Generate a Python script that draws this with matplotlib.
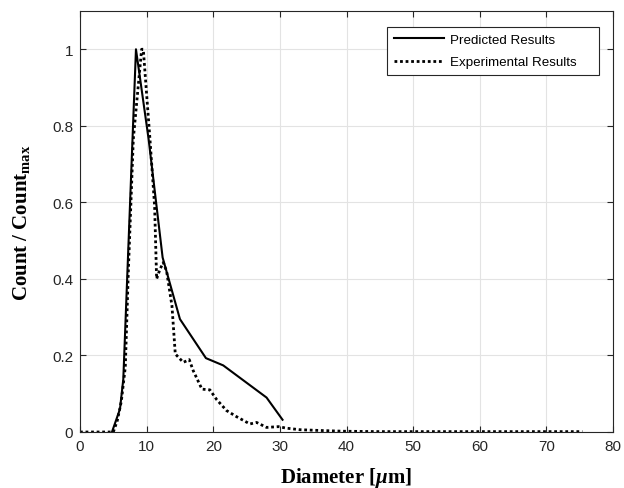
import matplotlib
matplotlib.use("Agg")
import matplotlib.pyplot as plt

plt.rcParams["mathtext.fontset"] = "custom"
plt.rcParams["mathtext.rm"] = "Liberation Serif:bold"
plt.rcParams["mathtext.bf"] = "Liberation Serif:bold"
plt.rcParams["mathtext.it"] = "Liberation Serif:italic:bold"

# Predicted results (solid)
pred_x = [4.8, 6.0, 6.5, 8.4, 10.3, 12.4, 15.0, 18.9, 21.5, 28.0, 30.4]
pred_y = [0.0, 0.06, 0.138, 1.0, 0.765, 0.456, 0.295, 0.193, 0.174, 0.09, 0.032]

# Experimental results (dotted)
exp_x = [0, 1, 2, 3, 4, 5, 5.6, 6.2, 6.8, 7.25, 8.0, 9.25, 9.5, 10.5, 11.2, 11.5, 12.0, 12.5,
         13.0, 13.8, 14.3, 15.5, 16.4, 17.0, 18.3, 19.5, 20.5, 22.0, 23.5, 25.5, 26.5, 28.0,
         29.8, 31.0, 33.0, 36.0, 39.5, 45.0, 50.0, 55.0, 60.0, 65.0, 70.0, 75.4]
exp_y = [0, 0, 0, 0, 0, 0.0, 0.03, 0.08, 0.17, 0.417, 0.765, 1.0, 1.0, 0.765, 0.59, 0.40, 0.425, 0.443,
         0.42, 0.33, 0.204, 0.182, 0.189, 0.16, 0.112, 0.11, 0.085, 0.056, 0.04, 0.021, 0.025, 0.012,
         0.014, 0.01, 0.006, 0.004, 0.002, 0.001, 0.001, 0.001, 0.001, 0.001, 0.001, 0.001]

xticks = [0, 10, 20, 30, 40, 50, 60, 70, 80]
yticks = [0, 0.2, 0.4, 0.6, 0.8, 1.0]
ytick_labels = ["0", "0.2", "0.4", "0.6", "0.8", "1"]

fig = plt.figure(figsize=(6.24, 4.89), dpi=100)
ax = fig.add_axes([80 / 624, 56 / 489, 533 / 624, 421 / 489])

ax.plot(pred_x, pred_y, color="black", lw=1.5, ls="-", label="Predicted Results   ")
ax.plot(exp_x, exp_y, color="black", lw=2.0, ls=(0, (1, 1)), label="Experimental Results    ")

ax.set_xlim(0, 80)
ax.set_ylim(0, 1.1)
ax.set_xticks(xticks)
ax.set_yticks(yticks)
ax.set_yticklabels(ytick_labels)

ax.grid(True, color="#e3e3e3", lw=0.8)
ax.set_axisbelow(True)
for s in ax.spines.values():
    s.set_color("#262626")
    s.set_linewidth(0.8)
ax.tick_params(direction="in", top=True, right=True, length=4, width=0.8,
               colors="#262626", labelsize=11, pad=5)
for lab in ax.get_xticklabels() + ax.get_yticklabels():
    lab.set_fontfamily("Liberation Sans")

ax.set_xlabel("Diameter [$\\mu$m]", fontfamily="Liberation Serif", fontweight="bold",
              fontsize=15, labelpad=9)
ax.set_ylabel("Count / Count$_{\\mathbf{max}}$", fontfamily="Liberation Serif",
              fontweight="bold", fontsize=15, labelpad=14)

leg = ax.legend(loc="upper left", bbox_to_anchor=((387 - 80) / 533, (433 - 28) / 421),
                frameon=True, fancybox=False, edgecolor="#262626", framealpha=1,
                prop={"family": "Liberation Sans", "size": 9.6}, handlelength=3.8,
                borderpad=0.5, labelspacing=0.75, handletextpad=0.45, borderaxespad=0)
leg.get_frame().set_linewidth(0.8)

fig.savefig("out.png", dpi=100)
